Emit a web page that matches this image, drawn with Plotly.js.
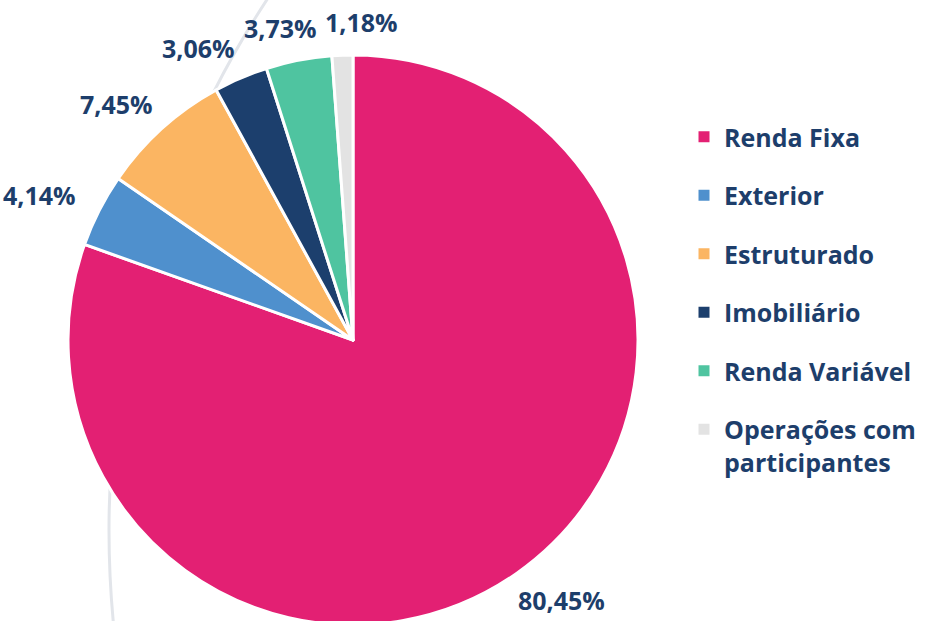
<!DOCTYPE html>
<html>
<head>
<meta charset="utf-8">
<script src="https://cdn.plot.ly/plotly-3.0.1.min.js"></script>
<style>
html,body{margin:0;padding:0;overflow:hidden;background:#fff;width:940px;height:621px;}
#chart{width:940px;height:650px;}
</style>
</head>
<body>
<div id="chart"></div>
<script>
const categories = ["Renda Fixa","Exterior","Estruturado","Imobiliário","Renda Variável","Operações com<br>participantes"];
const shares = [80.45, 4.14, 7.45, 3.06, 3.73, 1.18];
const colors = ["#E32073","#4F90CD","#FBB562","#1C3F6D","#4FC4A0","#E3E3E3"];
const textColor = "#1D3E6B";
const fontFam = "'Open Sans', Lato, sans-serif";

const W = 940, H = 650;
const cx = 353, cy = 340, R = 285;

const traces = [{
  type: "pie",
  labels: categories,
  values: shares,
  sort: false,
  direction: "clockwise",
  rotation: 0,
  marker: {colors: colors, line: {color: "#ffffff", width: 3}},
  textinfo: "none",
  showlegend: false,
  hoverinfo: "none",
  domain: {x: [(cx - R) / W, (cx + R) / W], y: [1 - (cy + R) / H, 1 - (cy - R) / H]}
}];

categories.forEach((c, i) => {
  traces.push({
    type: "scatter", mode: "markers", x: [null], y: [null],
    name: c, legendgroup: "g" + i,
    marker: {symbol: "square", size: 11, color: colors[i]},
    showlegend: true, hoverinfo: "none"
  });
});

// Outside percentage labels, placed from the slice angles of the data
const total = shares.reduce((a, b) => a + b, 0);
const fmt = v => v.toFixed(2).replace(".", ",") + "%";
let cum = 0;
const boxes = shares.map(v => {
  const th = (cum + v / 2) / total * 2 * Math.PI;
  cum += v;
  const txt = fmt(v);
  const w = txt.length * 14.5, h = 26, r = R + 20;
  const s = Math.sin(th), c = Math.cos(th);
  return {txt, w, h, x: cx + r * s + w / 2 * s * 1.3, y: cy - r * c - h / 2 * c};
});
for (let it = 0; it < 200; it++) {
  for (let a = 0; a < boxes.length; a++) for (let b = a + 1; b < boxes.length; b++) {
    const A = boxes[a], B = boxes[b];
    const ox = (A.w + B.w) / 2 + 9 - Math.abs(A.x - B.x);
    const oy = (A.h + B.h) / 2 - Math.abs(A.y - B.y);
    if (ox > 0 && oy > 0) {
      const d = ox / 2 * 0.5 * (A.x < B.x ? 1 : -1);
      A.x -= d; B.x += d;
    }
  }
}
const annotations = boxes.map(b => ({
  xref: "paper", yref: "paper", x: b.x / W, y: 1 - b.y / H,
  xanchor: "center", yanchor: "middle", showarrow: false, text: b.txt,
  font: {family: fontFam, size: 25, color: textColor, weight: 700}
}));

const layout = {
  width: W, height: H,
  margin: {l: 0, r: 0, t: 0, b: 0},
  paper_bgcolor: "#fff", plot_bgcolor: "rgba(0,0,0,0)",
  xaxis: {visible: false}, yaxis: {visible: false},
  showlegend: true,
  legend: {
    x: 684 / W, xanchor: "left", y: 1 - 114 / H, yanchor: "top",
    font: {family: fontFam, size: 25, color: textColor, weight: 700},
    tracegroupgap: 23, bgcolor: "rgba(0,0,0,0)", valign: "top"
  },
  annotations: annotations,
  shapes: [{
    type: "circle", xref: "paper", yref: "paper", layer: "below",
    x0: (1077 - 968) / W, x1: (1077 + 968) / W,
    y0: 1 - (530 + 968) / H, y1: 1 - (530 - 968) / H,
    line: {color: "#E2E5EA", width: 3}
  }]
};

Plotly.newPlot("chart", traces, layout, {staticPlot: true});
</script>
</body>
</html>
